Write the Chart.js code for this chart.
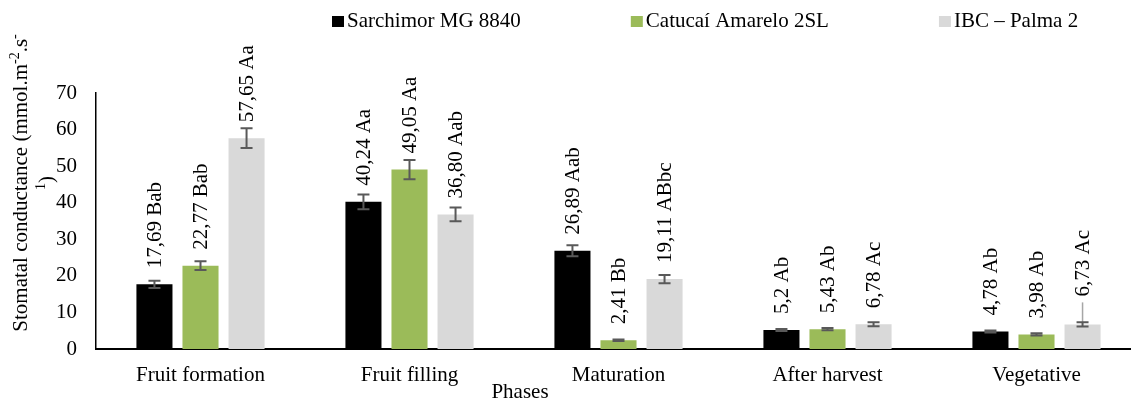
<!DOCTYPE html>
<html>
<head>
<meta charset="utf-8">
<script src="https://cdn.jsdelivr.net/npm/chart.js@4.4.1/dist/chart.umd.min.js"></script>
<style>
  html, body { margin: 0; padding: 0; background: #fff; overflow: hidden; }
  #wrap { position: relative; width: 1141px; height: 401px; }
</style>
</head>
<body>
<div id="wrap"><canvas id="chart"></canvas></div>
<script>
// values
const phases = ['Fruit formation', 'Fruit filling', 'Maturation', 'After harvest', 'Vegetative'];
const seriesNames = ['Sarchimor MG 8840', 'Catucaí Amarelo 2SL', 'IBC – Palma 2'];

const sarchimor = [17.69, 40.24, 26.89, 5.2, 4.78];
const catucai   = [22.77, 49.05, 2.41, 5.43, 3.98];
const ibc       = [57.65, 36.80, 19.11, 6.78, 6.73];

// error bar half-lengths (estimated)
const sarchimorErr = [1.0, 2.0, 1.5, 0.3, 0.3];
const catucaiErr   = [1.2, 2.6, 0.2, 0.3, 0.3];
const ibcErr       = [2.7, 1.9, 1.15, 0.55, 0.6];

// label text above each bar
const sarchimorText = ['17,69 Bab', '40,24 Aa', '26,89 Aab', '5,2 Ab', '4,78 Ab'];
const catucaiText   = ['22,77 Bab', '49,05 Aa', '2,41 Bb', '5,43 Ab', '3,98 Ab'];
const ibcText       = ['57,65 Aa', '36,80 Aab', '19,11 ABbc', '6,78 Ac', '6,73 Ac'];

const yMin = 0, yMax = 70, yStep = 10;

const FONT = '"Liberation Serif", "Times New Roman", serif';
const colors = ['#000000', '#9BBB59', '#D9D9D9'];
const errColor = '#595959';

const errs = [sarchimorErr, catucaiErr, ibcErr];
const texts = [sarchimorText, catucaiText, ibcText];

// error bars + rotated value labels
const barExtras = {
  id: 'barExtras',
  afterDatasetsDraw(chart) {
    const ctx = chart.ctx;
    const y = chart.scales.y;
    chart.data.datasets.forEach((ds, di) => {
      const meta = chart.getDatasetMeta(di);
      meta.data.forEach((bar, i) => {
        const v = ds.data[i];
        const e = errs[di][i];
        let lift = 16;
        // the last grey label sits higher, with a leader line
        if (di === 2 && i === 4) {
          lift = 28;
          ctx.save();
          ctx.strokeStyle = '#A6A6A6';
          ctx.lineWidth = 1.5;
          ctx.beginPath();
          ctx.moveTo(bar.x, bar.y - lift + 6);
          ctx.lineTo(bar.x, bar.y - 1);
          ctx.stroke();
          ctx.restore();
        }
        // error bar
        const top = y.getPixelForValue(v + e);
        const bot = y.getPixelForValue(v - e);
        ctx.save();
        ctx.strokeStyle = errColor;
        ctx.lineWidth = 2;
        ctx.beginPath();
        ctx.moveTo(bar.x, top); ctx.lineTo(bar.x, bot);
        ctx.moveTo(bar.x - 6, top); ctx.lineTo(bar.x + 6, top);
        ctx.moveTo(bar.x - 6, bot); ctx.lineTo(bar.x + 6, bot);
        ctx.stroke();
        ctx.restore();
        // label
        ctx.save();
        ctx.translate(bar.x + 1, bar.y - lift);
        ctx.rotate(-Math.PI / 2);
        ctx.font = '21px ' + FONT;
        ctx.fillStyle = '#000';
        ctx.textAlign = 'left';
        ctx.textBaseline = 'middle';
        ctx.fillText(texts[di][i], 0, 0);
        ctx.restore();
      });
    });
  }
};

// legend, y title with superscripts, x title
const decorations = {
  id: 'decorations',
  afterDraw(chart) {
    const ctx = chart.ctx;
    ctx.save();
    ctx.font = '21px ' + FONT;
    ctx.textBaseline = 'middle';
    ctx.fillStyle = '#000';
    let x = 332;
    chart.data.datasets.forEach((ds, di) => {
      ctx.fillStyle = ds.backgroundColor;
      ctx.fillRect(x, 16, 12, 11);
      ctx.fillStyle = '#000';
      ctx.textAlign = 'left';
      ctx.fillText(ds.label, x + 15, 21.5);
      x += 15 + ctx.measureText(ds.label).width + 110;
    });

    // y axis title (two lines, rotated)
    const big = '21px ' + FONT, small = '14px ' + FONT;
    const lines = [
      { cx: 21, runs: [['Stomatal conductance (mmol.m', 0], ['-2', 1], ['.s', 0], ['-', 1]] },
      { cx: 47, runs: [['1', 1], [')', 0]] }
    ];
    lines.forEach(line => {
      let total = 0;
      line.runs.forEach(r => { ctx.font = r[1] ? small : big; total += ctx.measureText(r[0]).width; });
      ctx.save();
      ctx.translate(line.cx, 183);
      ctx.rotate(-Math.PI / 2);
      ctx.textAlign = 'left';
      ctx.textBaseline = 'middle';
      let px = -total / 2;
      line.runs.forEach(r => {
        ctx.font = r[1] ? small : big;
        ctx.fillText(r[0], px, r[1] ? -6 : 0);
        px += ctx.measureText(r[0]).width;
      });
      ctx.restore();
    });

    // x axis title
    ctx.font = big;
    ctx.textAlign = 'center';
    ctx.textBaseline = 'middle';
    ctx.fillText('Phases', 520, 392);
    ctx.restore();
  }
};

const ctx = document.getElementById('chart').getContext('2d');
new Chart(ctx, {
  type: 'bar',
  data: {
    labels: phases,
    datasets: [
      { label: seriesNames[0], data: sarchimor, backgroundColor: colors[0] },
      { label: seriesNames[1], data: catucai, backgroundColor: colors[1] },
      { label: seriesNames[2], data: ibc, backgroundColor: colors[2] }
    ]
  },
  options: {
    responsive: true,
    maintainAspectRatio: false,
    animation: false,
    devicePixelRatio: 1,
    layout: { padding: { top: 93, left: 0, right: 0, bottom: 0 } },
    datasets: { bar: { categoryPercentage: 0.661, barPercentage: 0.783 } },
    scales: {
      x: {
        grid: { display: false, drawTicks: false },
        border: { display: true, color: '#000', width: 2 },
        ticks: {
          color: '#000',
          font: { family: FONT, size: 21 },
          padding: 14,
          autoSkip: false,
          maxRotation: 0
        },
        afterFit: s => { s.height = 52; }
      },
      y: {
        min: yMin,
        max: yMax,
        grid: { display: false, drawTicks: false },
        border: { display: true, color: '#000', width: 1.5 },
        ticks: {
          stepSize: yStep,
          color: '#000',
          font: { family: FONT, size: 21 },
          padding: 19
        },
        afterFit: s => { s.width = 96; }
      }
    },
    plugins: {
      legend: { display: false },
      tooltip: { enabled: false }
    }
  },
  plugins: [barExtras, decorations]
});
</script>
</body>
</html>
